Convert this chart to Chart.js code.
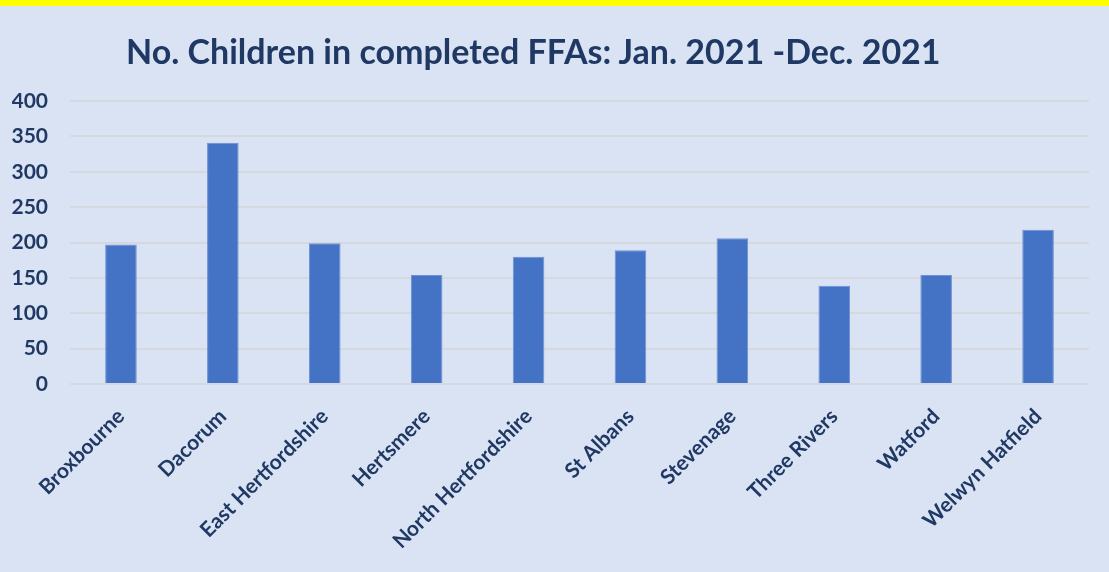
<!DOCTYPE html>
<html>
<head>
<meta charset="utf-8">
<script src="https://cdn.jsdelivr.net/npm/chart.js@4"></script>
<style>
  html, body { margin: 0; padding: 0; background: #dae3f3; }
  #wrap { position: relative; width: 1109px; height: 566px; border-top: 6px solid #ffff00; }
  #title { position: absolute; left: 126px; top: 28px; margin: 0; font: bold 34px Lato, sans-serif; line-height: 1; color: #1f3864; white-space: nowrap; }
  canvas { display: block; }
</style>
</head>
<body>
<div id="wrap">
  <div id="title">No. Children in completed FFAs: Jan. 2021 -Dec. 2021</div>
  <canvas id="ffaChart" width="1109" height="566"></canvas>
</div>
<script>
// Districts and number of children in completed FFAs
const districts = ['Broxbourne', 'Dacorum', 'East Hertfordshire', 'Hertsmere', 'North Hertfordshire',
  'St Albans', 'Stevenage', 'Three Rivers', 'Watford', 'Welwyn Hatfield'];
const children = [197, 341, 199, 154, 180, 189, 206, 139, 154, 218];
const yMax = 400;
const yStep = 50;

const navy = '#1f3864';

new Chart(document.getElementById('ffaChart'), {
  type: 'bar',
  data: {
    labels: districts,
    datasets: [{
      label: 'Children',
      data: children,
      backgroundColor: '#4472c4',
      borderColor: '#6d91d3',
      borderWidth: 1,
      barPercentage: 0.31,
      categoryPercentage: 1
    }]
  },
  options: {
    responsive: false,
    animation: false,
    layout: { padding: { left: 12, right: 20, top: 95, bottom: 0 } },
    plugins: {
      legend: { display: false },
      tooltip: { enabled: false }
    },
    scales: {
      x: {
        grid: { display: false },
        border: { display: false },
        ticks: {
          color: navy,
          font: { family: 'Lato', size: 21, weight: 'bold' },
          minRotation: 45,
          maxRotation: 45,
          padding: 12
        },
        afterFit: function(scale) { scale.height = 188; }
      },
      y: {
        min: 0,
        max: yMax,
        grid: { color: '#d5d9df', lineWidth: 2, drawTicks: false },
        border: { display: false },
        ticks: {
          stepSize: yStep,
          color: navy,
          font: { family: 'Lato', size: 21, weight: 'bold' },
          padding: 22
        },
        afterFit: function(scale) { scale.width = 58; }
      }
    }
  }
});
</script>
</body>
</html>
